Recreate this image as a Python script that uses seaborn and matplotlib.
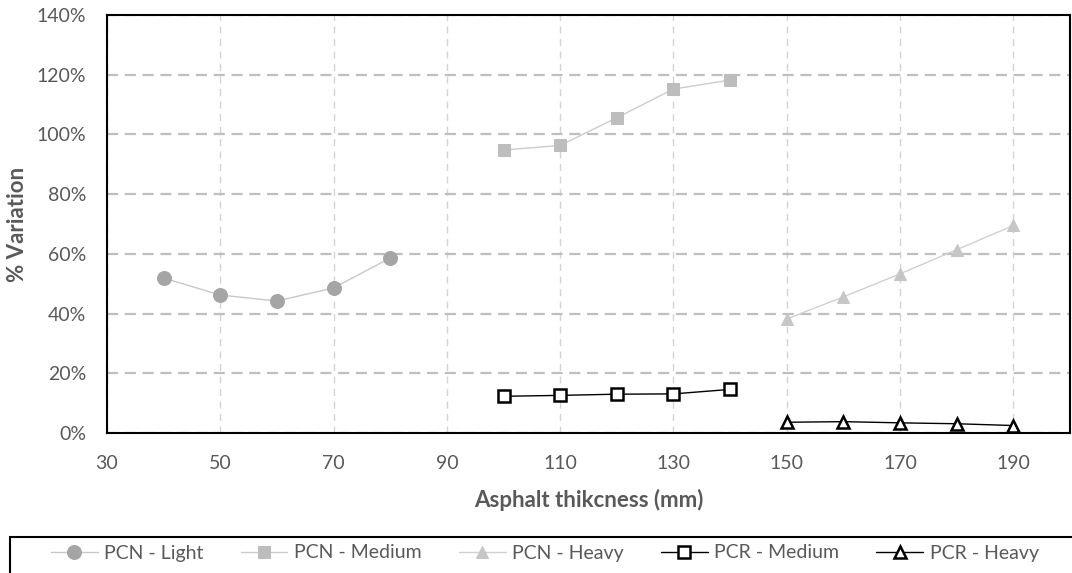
import matplotlib
matplotlib.use("Agg")
import matplotlib.pyplot as plt
import seaborn as sns
import pandas as pd
from matplotlib.ticker import PercentFormatter, MultipleLocator
from matplotlib.patches import Rectangle

# ---- data ----
x_light = [40, 50, 60, 70, 80]
pcn_light = [0.519, 0.462, 0.442, 0.486, 0.586]
x_medium = [100, 110, 120, 130, 140]
pcn_medium = [0.948, 0.963, 1.056, 1.152, 1.182]
x_heavy = [150, 160, 170, 180, 190]
pcn_heavy = [0.382, 0.456, 0.533, 0.614, 0.695]
pcr_medium = [0.123, 0.126, 0.130, 0.131, 0.146]
pcr_heavy = [0.036, 0.038, 0.034, 0.031, 0.025]

labels = ["PCN - Light", "PCN - Medium", "PCN - Heavy", "PCR - Medium", "PCR - Heavy"]

sns.set_theme(style="white")
plt.rcParams["font.family"] = ["Lato", "DejaVu Sans"]
TXT = "#595959"

fig = plt.figure(figsize=(10.72, 5.73), dpi=100)
ax = fig.add_axes([107 / 1072, (573 - 433) / 573, (1070 - 107) / 1072, (433 - 15) / 573])

series = [
    (x_light, pcn_light, dict(color="#C8C8C8", marker="o", markersize=10,
                              markerfacecolor="#A5A5A5", markeredgecolor="#A5A5A5", linewidth=1.0)),
    (x_medium, pcn_medium, dict(color="#CCCCCC", marker="s", markersize=8,
                                markerfacecolor="#BDBDBD", markeredgecolor="#BDBDBD", linewidth=1.0)),
    (x_heavy, pcn_heavy, dict(color="#D0D0D0", marker="^", markersize=8,
                              markerfacecolor="#C6C6C6", markeredgecolor="#C6C6C6", linewidth=1.0)),
    (x_medium, pcr_medium, dict(color="#000000", marker="s", markersize=8.5,
                                markerfacecolor="white", markeredgecolor="black",
                                markeredgewidth=1.8, linewidth=1.0)),
    (x_heavy, pcr_heavy, dict(color="#000000", marker="^", markersize=9,
                              markerfacecolor="white", markeredgecolor="black",
                              markeredgewidth=1.8, linewidth=1.0)),
]

for (xs, ys, kw), lab in zip(series, labels):
    df = pd.DataFrame({"x": xs, "y": ys})
    sns.lineplot(data=df, x="x", y="y", ax=ax, label=lab, clip_on=False, zorder=3, **kw)

ax.set_xlim(30, 200)
ax.set_ylim(0, 1.4)
ax.set_xticks(list(range(30, 200, 20)))
ax.yaxis.set_major_locator(MultipleLocator(0.2))
ax.yaxis.set_major_formatter(PercentFormatter(1.0, decimals=0))

ax.grid(True, axis="y", linestyle=(0, (5, 3)), color="#BFBFBF", linewidth=1.6)
ax.grid(True, axis="x", linestyle=(0, (5, 4)), color="#D3D3D3", linewidth=1.0)
ax.set_axisbelow(True)

for s in ax.spines.values():
    s.set_color("black")
    s.set_linewidth(1.5)

ax.tick_params(axis="both", length=0, labelsize=14, labelcolor=TXT)
ax.tick_params(axis="y", pad=15)
ax.tick_params(axis="x", pad=16)

ax.set_xlabel("Asphalt thikcness (mm)", fontsize=16, fontweight="bold", color=TXT)
ax.set_ylabel("% Variation", fontsize=16, fontweight="bold", color=TXT)
ax.xaxis.set_label_coords(0.5, -(500 - 433) / 418, transform=ax.transAxes)
ax.xaxis.label.set_va("center")
ax.yaxis.set_label_coords(-(107 - 18) / 963, 0.5, transform=ax.transAxes)
ax.yaxis.label.set_va("center")

ax.get_legend().remove()
handles, labs = ax.get_legend_handles_labels()
leg = fig.legend(handles, labs, loc="center left", ncol=5,
                 bbox_to_anchor=(51 / 1072, (573 - 553) / 573),
                 frameon=False, fontsize=14,
                 handlelength=2.4, handletextpad=0.35, columnspacing=1.9,
                 borderaxespad=0.0, borderpad=0.0)
for t in leg.get_texts():
    t.set_color(TXT)

fig.patches.append(Rectangle((10 / 1072, -0.1), 1.2, 0.1 + (573 - 537) / 573,
                             transform=fig.transFigure, fill=False,
                             edgecolor="black", linewidth=1.5, figure=fig))

fig.savefig("out.png", dpi=100)
